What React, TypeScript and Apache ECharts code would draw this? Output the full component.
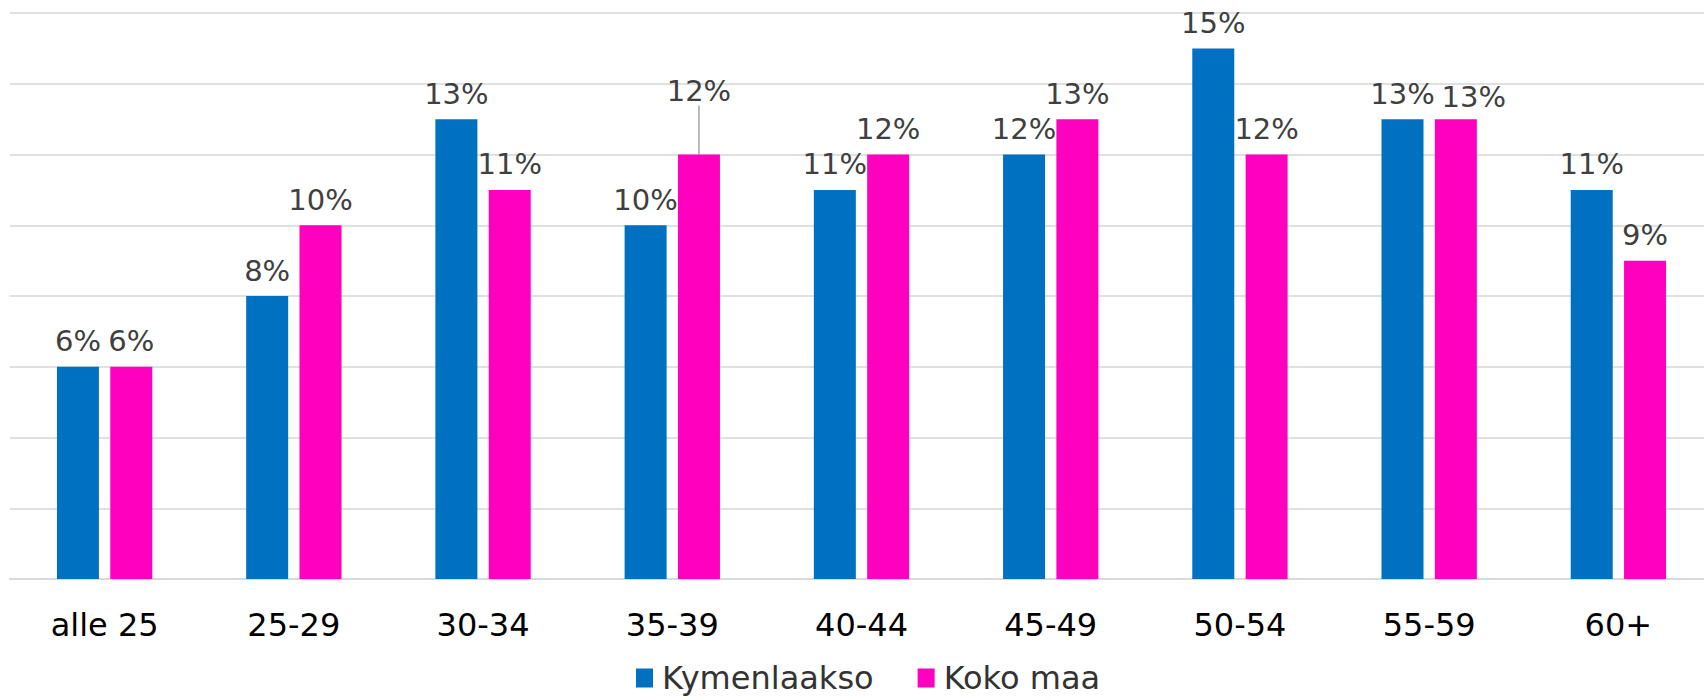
import React, { useEffect, useRef } from "react";
import * as echarts from "echarts";

const categories = ["alle 25", "25-29", "30-34", "35-39", "40-44", "45-49", "50-54", "55-59", "60+"];
const kymenlaakso = [6, 8, 13, 10, 11, 12, 15, 13, 11];
const kokoMaa = [6, 10, 11, 12, 12, 13, 12, 13, 9];
const seriesNames = ["Kymenlaakso", "Koko maa"];

const FONT = '"DejaVu Sans", Verdana, sans-serif';

export default function App() {
  const ref = useRef<HTMLDivElement>(null);
  useEffect(() => {
    document.body.style.margin = "0";
    document.body.style.overflow = "hidden";
    const chart = echarts.init(ref.current!, undefined, { renderer: "svg" });
    const labelBase = {
      show: true,
      position: "top",
      distance: 11,
      formatter: "{c}%",
      color: "#404040",
      fontSize: 29,
      fontFamily: FONT,
    };
    chart.setOption({
      animation: false,
      backgroundColor: "#ffffff",
      textStyle: { fontFamily: FONT },
      grid: { left: 10, width: 1703, top: 13, bottom: 121, containLabel: false },
      legend: {
        data: seriesNames,
        left: 636,
        top: 662,
        itemWidth: 17,
        itemHeight: 19,
        itemGap: 44,
        icon: "rect",
        padding: 0,
        textStyle: {
          fontSize: 32,
          lineHeight: 30,
          color: "#333333",
          fontFamily: FONT,
          padding: [0, 0, 0, 4],
        },
      },
      xAxis: {
        type: "category",
        data: categories,
        axisTick: { show: false },
        axisLine: { show: true, lineStyle: { color: "#D9D9D9", width: 2 } },
        axisLabel: { color: "#000000", fontSize: 32, fontFamily: FONT, margin: 30 },
      },
      yAxis: {
        type: "value",
        min: 0,
        max: 16,
        interval: 2,
        axisLabel: { show: false },
        axisLine: { show: false },
        axisTick: { show: false },
        splitLine: { show: true, lineStyle: { color: "#E0E0E0", width: 2 } },
      },
      series: [
        {
          name: seriesNames[0],
          type: "bar",
          data: kymenlaakso,
          barWidth: 42,
          barGap: "27%",
          itemStyle: { color: "#0070C0" },
          label: labelBase,
        },
        {
          name: seriesNames[1],
          type: "bar",
          data: kokoMaa.map((v, i) =>
            i === 3
              ? { value: v, labelLine: { show: true, lineStyle: { color: "#A6A6A6", width: 1.5 } } }
              : v
          ),
          barWidth: 42,
          barGap: "27%",
          itemStyle: { color: "#FF00BF" },
          label: labelBase,
          labelLine: { show: false },
          labelLayout: (params: any) => {
            if (params.dataIndex === 3) return { dy: -38 };
            if (params.dataIndex === 7) return { dx: 18, dy: 3 };
            return {};
          },
        },
      ],
    });
    return () => chart.dispose();
  }, []);
  return (
    <div style={{ position: "absolute", left: 0, top: 0, width: 1704, height: 700, overflow: "hidden" }}>
      <div ref={ref} style={{ position: "absolute", left: 0, top: 0, width: 1724, height: 700 }} />
    </div>
  );
}
